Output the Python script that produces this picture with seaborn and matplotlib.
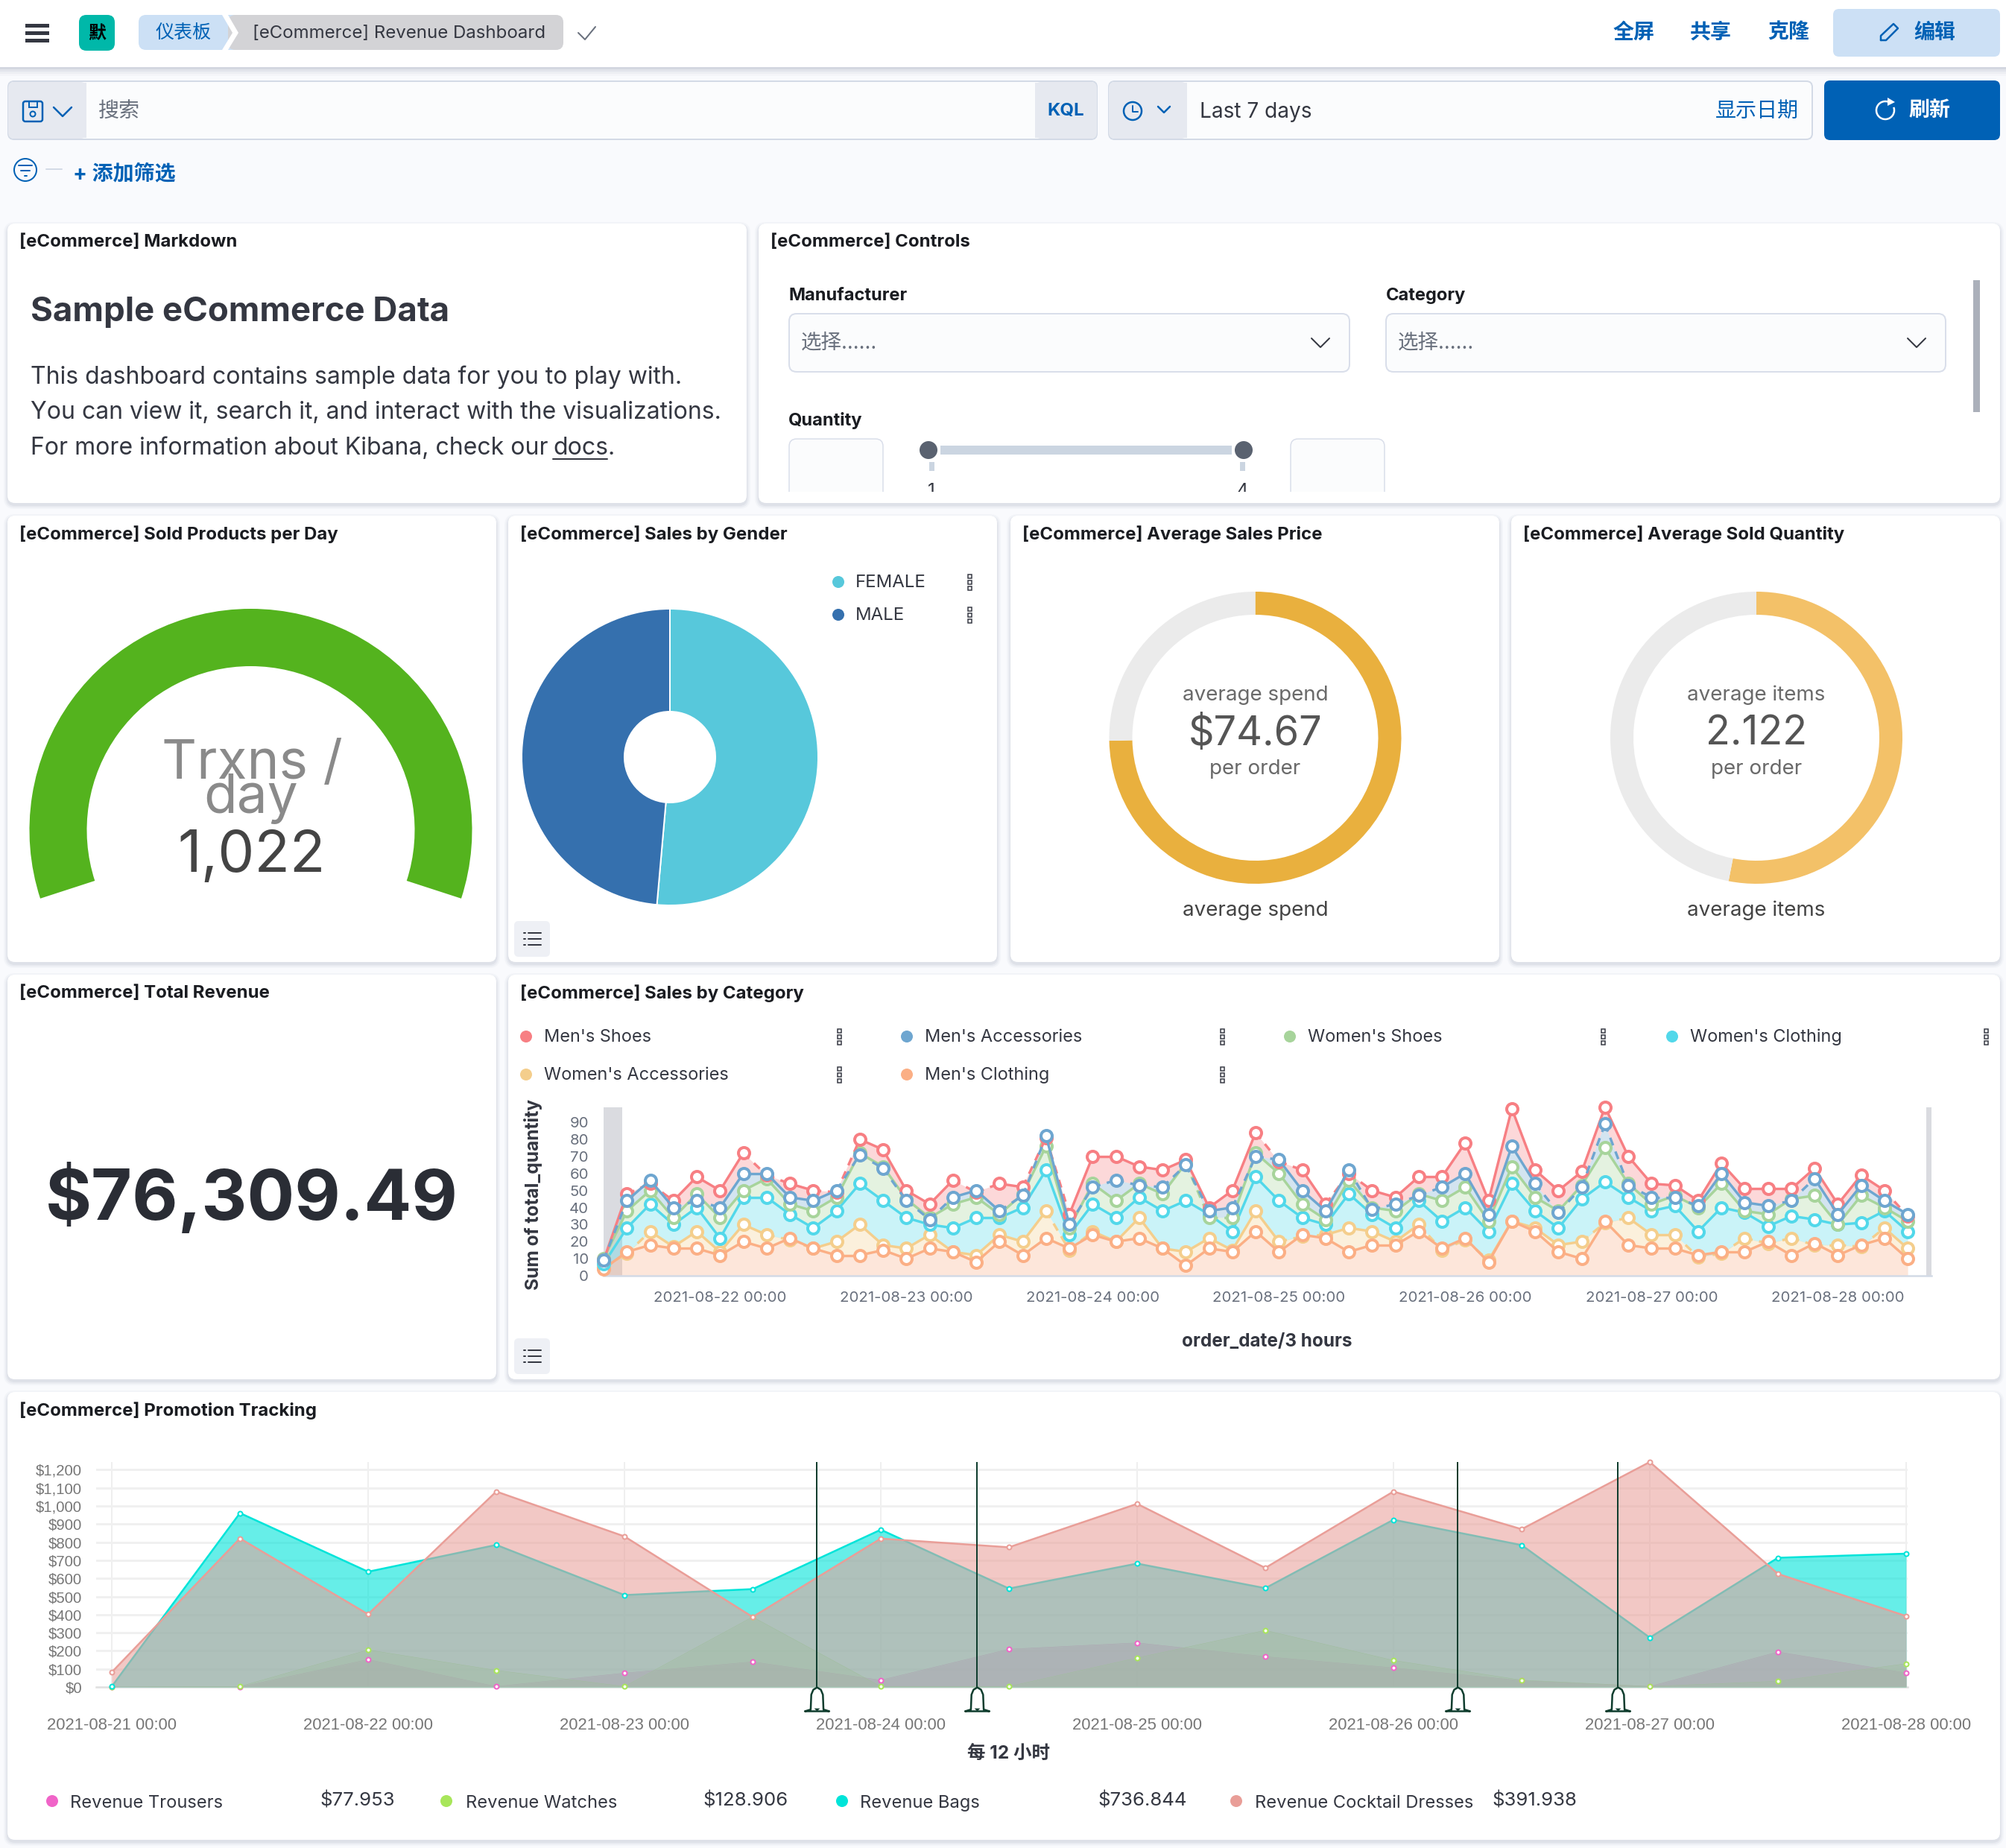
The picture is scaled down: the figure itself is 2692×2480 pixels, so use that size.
"""
Kibana eCommerce revenue dashboard rebuilt with seaborn / matplotlib
"""
import numpy as np
import pandas as pd
import seaborn as sns
import matplotlib
matplotlib.use("Agg")
import matplotlib.pyplot as plt
import matplotlib.dates as mdates
from matplotlib.patches import FancyBboxPatch, Rectangle, Circle, Arc, Polygon
from matplotlib.path import Path
from matplotlib.ticker import FuncFormatter

W, H = 2692, 2480

# ---- data -----------------------------------------------------------------
sales_start = "2021-08-21 09:00"
mens_shoes = [9, 48, 54, 44, 58, 50, 72, 59, 54, 50, 49, 80, 74, 50, 42, 56, 49, 54, 52, 81, 36, 70, 70, 64, 62, 68, 40, 50,
              84, 67, 62, 42, 60, 50, 46, 58, 58, 78, 44, 98, 62, 50, 61, 99, 70, 54, 53, 44, 66, 51, 51, 51, 63, 42, 59, 50, 35]
mens_accessories = [9, 44, 56, 40, 44, 40, 60, 60, 46, 44, 50, 71, 63, 44, 33, 46, 50, 38, 47, 82, 30, 52, 56, 53, 52, 65, 38, 40,
                    70, 68, 50, 38, 62, 39, 42, 47, 52, 60, 36, 76, 54, 37, 52, 89, 53, 46, 46, 41, 60, 43, 41, 44, 57, 36, 53, 44, 36]
womens_shoes = [10, 38, 50, 34, 48, 34, 50, 57, 42, 38, 46, 72, 64, 45, 34, 42, 46, 36, 48, 76, 28, 54, 44, 54, 48, 66, 34, 34,
                72, 60, 42, 33, 56, 40, 38, 48, 44, 52, 32, 64, 46, 38, 53, 75, 54, 42, 47, 40, 54, 38, 36, 45, 47, 30, 47, 40, 32]
womens_clothing = [7, 28, 42, 30, 40, 22, 46, 46, 36, 28, 38, 54, 44, 34, 30, 28, 34, 34, 40, 62, 24, 42, 34, 46, 38, 44, 36, 26,
                   58, 44, 34, 30, 48, 36, 28, 44, 32, 40, 26, 54, 38, 28, 45, 55, 46, 38, 41, 26, 40, 37, 29, 35, 33, 30, 31, 38, 26]
womens_accessories = [5, 13, 26, 17, 26, 14, 30, 24, 21, 16, 20, 30, 18, 16, 24, 14, 12, 24, 20, 38, 15, 26, 20, 34, 16, 14, 22, 15,
                      38, 20, 23, 24, 28, 26, 20, 30, 15, 21, 9, 32, 28, 18, 20, 31, 34, 24, 24, 11, 13, 22, 19, 22, 18, 18, 17, 28, 16]
mens_clothing = [4, 14, 18, 16, 16, 12, 20, 16, 22, 16, 12, 12, 15, 10, 16, 14, 8, 20, 12, 22, 16, 24, 20, 22, 16, 6, 16, 14,
                 26, 14, 24, 22, 14, 18, 18, 26, 16, 22, 8, 32, 26, 14, 10, 32, 18, 16, 16, 12, 14, 14, 20, 12, 19, 12, 18, 22, 10]
sales_names = ["Men's Shoes", "Men's Accessories", "Women's Shoes", "Women's Clothing", "Women's Accessories", "Men's Clothing"]
sales_colors = ["#F77F83", "#6EA6D0", "#A7D49B", "#52D8EA", "#F4CE8C", "#FBAF85"]
sales_ticks = ["2021-08-22", "2021-08-23", "2021-08-24", "2021-08-25", "2021-08-26", "2021-08-27", "2021-08-28"]

promo_start = "2021-08-21 00:00"
revenue_trousers = [0, 0, 152, 3, 77, 139, 38, 209, 244, 168, 106, 35, 3, 194, 77.953]
revenue_watches = [0, 3, 205, 92, 3, 387, 3, 3, 161, 313, 147, 38, 3, 32, 128.906]
revenue_bags = [3, 961, 637, 785, 508, 541, 869, 544, 682, 546, 924, 784, 273, 714, 736.844]
revenue_dresses = [82, 821, 402, 1080, 832, 387, 820, 772, 1012, 658, 1080, 872, 1243, 625, 391.938]
promo_names = ["Revenue Trousers", "Revenue Watches", "Revenue Bags", "Revenue Cocktail Dresses"]
promo_colors = ["#F064C8", "#A8E65A", "#00E4D9", "#E99E98"]
promo_alpha = [0.5, 0.35, 0.6, 0.56]
promo_line = [0.6, 0.6, 2.5, 2.5]
promo_labels = ["$77.953", "$128.906", "$736.844", "$391.938"]
promo_yticks = list(range(0, 1300, 100))
promo_events = ["2021-08-23 18:00", "2021-08-24 09:00", "2021-08-26 06:00", "2021-08-26 21:00"]

gender_names = ["FEMALE", "MALE"]
gender_share = [51.4, 48.6]
gender_colors = ["#57C8DB", "#3570AE"]
avg_price, avg_price_max = 74.67, 100
avg_qty, avg_qty_max = 2.122, 4

# ---- helpers --------------------------------------------------------------
sns.set_theme(style="white")
FONT = ["Inter", "Noto Sans CJK SC", "DejaVu Sans"]
plt.rcParams["font.family"] = FONT


def px(v):
    return v * 72 / 100


def rect_of(x0, y0, x1, y1):
    return [x0 / W, 1 - y1 / H, (x1 - x0) / W, (y1 - y0) / H]


fig = plt.figure(figsize=(W / 100, H / 100), dpi=100, facecolor="#F9FAFD")
bg = fig.add_axes([0, 0, 1, 1])
bg.set_xlim(0, W)
bg.set_ylim(H, 0)
bg.axis("off")


def txt(x, y, s, size, color="#343741", ha="left", va="center", weight="normal", **kw):
    return bg.text(x, y + 3, s, fontsize=px(size), color=color, ha=ha, va=va, fontweight=weight, **kw)


def box(x0, y0, x1, y1, fc, ec="none", r=8, lw=0, z=1):
    p = FancyBboxPatch((x0, y0), x1 - x0, y1 - y0, boxstyle=f"round,pad=0,rounding_size={r}",
                       fc=fc, ec=ec, lw=px(lw), zorder=z)
    bg.add_patch(p)
    return p


def chevron(x, y, w=7, h=6, color="#0061B5", lw=2):
    bg.plot([x - w, x, x + w], [y - h, y + h, y - h], color=color, lw=px(lw), zorder=5)


def card(x0, y0, x1, y1, title):
    for grow, alpha in [(5, 0.12), (3, 0.2), (1, 0.3)]:
        p = box(x0 - grow, y0 - grow + 3, x1 + grow, y1 + grow + 3, "#C6CBD6", r=10 + grow, z=1)
        p.set_alpha(alpha)
    box(x0, y0, x1, y1, "white", r=10, z=2)
    txt(x0 + 16, y0 + 22, title, 24, color="#1A1C21", weight="bold", zorder=6)


def kebab(x, y):
    for dy in (-8, 0, 8):
        bg.add_patch(Rectangle((x - 2.5, y + dy - 2.5), 5, 5, fc="white", ec="#343741", lw=px(1.5), zorder=6))


def list_button(x0, y0):
    box(x0, y0, x0 + 48, y0 + 48, "#EEF0F5", r=6, z=5)
    for dy in (-8, 0, 8):
        bg.plot([x0 + 19, x0 + 36], [y0 + 24 + dy] * 2, color="#343741", lw=px(2), zorder=6)
        bg.plot([x0 + 13, x0 + 15], [y0 + 24 + dy] * 2, color="#343741", lw=px(2), zorder=6)


def donut(cx, cy, r_out, r_in, values, colors, start, sep=False):
    ax = fig.add_axes(rect_of(cx - r_out - 2, cy - r_out - 2, cx + r_out + 2, cy + r_out + 2))
    ax.patch.set_alpha(0)
    ax.pie(values, colors=colors, startangle=start, counterclock=False, radius=r_out,
           wedgeprops=dict(width=r_out - r_in, edgecolor="white" if sep else "none", linewidth=px(2) if sep else 0))
    ax.set_xlim(-r_out - 2, r_out + 2)
    ax.set_ylim(-r_out - 2, r_out + 2)
    ax.axis("off")
    return ax


# ---- header ---------------------------------------------------------------
for i, a in enumerate([0.05, 0.08, 0.12, 0.2]):
    bg.add_patch(Rectangle((0, 90), W, 12 - 3 * i, fc="#9AA3B5", alpha=a, lw=0, zorder=1))
bg.add_patch(Rectangle((0, 0), W, 90, fc="white", lw=0, zorder=2))
for yy in (34, 44, 54):
    bg.add_patch(Rectangle((34, yy - 2.5), 32, 5, fc="#343741", lw=0, zorder=3))
box(106, 20, 154, 68, "#00B8A9", r=10, z=3)
txt(130, 43, "默", 24, color="black", ha="center", weight="bold", zorder=4)
box(186, 20, 330, 67, "#CCE0F5", r=10, z=3)
box(306, 20, 756, 67, "#D3D3D6", r=10, z=3)
bg.add_patch(Polygon([[298, 20], [306, 20], [320, 44], [306, 67], [298, 67], [312, 44]], fc="white", lw=0, zorder=4))
txt(246, 42, "仪表板", 25, color="#0061B5", ha="center", zorder=5)
txt(339, 42, "[eCommerce] Revenue Dashboard", 24, color="#343741", zorder=5)
bg.plot([776, 785, 799], [44, 53, 36], color="#69707D", lw=px(2), zorder=5)
for xc, s in [(2193, "全屏"), (2296, "共享"), (2400, "克隆")]:
    txt(xc, 41, s, 28, color="#0061B5", ha="center", weight="bold", zorder=5)
box(2460, 12, 2684, 76, "#CCE0F5", r=8, z=3)
bg.plot([2524, 2531, 2547, 2541, 2524, 2524], [54, 54, 38, 32, 48, 54], color="#0061B5", lw=px(2.5), zorder=5)
txt(2596, 41, "编辑", 28, color="#0061B5", ha="center", weight="bold", zorder=5)

# ---- query bar ------------------------------------------------------------
box(11, 109, 1472, 187, "#FBFCFD", ec="#D3DAE6", r=8, lw=2, z=2)
box(11, 110, 116, 186, "#E6E9F0", r=8, z=3)
bg.add_patch(Rectangle((100, 111), 16, 74, fc="#E6E9F0", lw=0, zorder=3))
box(1389, 110, 1472, 186, "#E6E9F0", r=8, z=3)
bg.add_patch(Rectangle((1389, 111), 16, 74, fc="#E6E9F0", lw=0, zorder=3))
box(31, 136, 57, 163, "none", ec="#0061B5", r=3, lw=2.5, z=4)
bg.add_patch(Circle((44, 153), 3.5, fc="none", ec="#0061B5", lw=px(2), zorder=4))
bg.add_patch(Rectangle((39, 136), 11, 8, fc="none", ec="#0061B5", lw=px(2), zorder=4))
chevron(84, 150, w=12, h=6, lw=2.5)
txt(132, 146, "搜索", 28, color="#69707D", zorder=5)
txt(1430, 146, "KQL", 24, color="#0061B5", ha="center", weight="bold", zorder=5)

box(1488, 109, 2432, 187, "#FBFCFD", ec="#D3DAE6", r=8, lw=2, z=2)
box(1488, 110, 1593, 186, "#E6E9F0", r=8, z=3)
bg.add_patch(Rectangle((1577, 111), 16, 74, fc="#E6E9F0", lw=0, zorder=3))
bg.add_patch(Circle((1520, 149), 12, fc="none", ec="#0061B5", lw=px(2.5), zorder=4))
bg.plot([1520, 1520, 1527], [142, 150, 150], color="#0061B5", lw=px(2), zorder=4)
chevron(1562, 147, w=8, h=4, lw=2.5)
txt(1610, 147, "Last 7 days", 28, color="#343741", zorder=5)
txt(2358, 146, "显示日期", 28, color="#0061B5", ha="center", zorder=5)
box(2448, 108, 2684, 188, "#0061B5", r=8, z=3)
bg.add_patch(Arc((2530, 148), 24, 24, theta1=-20, theta2=290, ec="white", lw=px(2.5), zorder=5))
bg.add_patch(Polygon([[2533, 131], [2543, 137], [2533, 142]], fc="white", lw=0, zorder=5))
txt(2590, 146, "刷新", 28, color="white", ha="center", weight="bold", zorder=5)

bg.add_patch(Circle((34, 228), 15, fc="none", ec="#0061B5", lw=px(2), zorder=4))
for hw, yy in [(9, 222), (6, 229), (1.5, 236)]:
    bg.plot([34 - hw, 34 + hw], [yy, yy], color="#0061B5", lw=px(2), zorder=4)
bg.plot([62, 83], [227, 227], color="#D3DAE6", lw=px(2), zorder=4)
txt(98, 231, "+ 添加筛选", 28, color="#0061B5", weight="bold", zorder=5)

# ---- cards ----------------------------------------------------------------
card(10, 300, 1002, 675, "[eCommerce] Markdown")
card(1018, 300, 2684, 675, "[eCommerce] Controls")
card(10, 692, 666, 1291, "[eCommerce] Sold Products per Day")
card(682, 692, 1338, 1291, "[eCommerce] Sales by Gender")
card(1356, 692, 2012, 1291, "[eCommerce] Average Sales Price")
card(2028, 692, 2684, 1291, "[eCommerce] Average Sold Quantity")
card(10, 1308, 666, 1851, "[eCommerce] Total Revenue")
card(682, 1308, 2684, 1851, "[eCommerce] Sales by Category")
card(10, 1868, 2684, 2469, "[eCommerce] Promotion Tracking")

# markdown
txt(41, 416, "Sample eCommerce Data", 45.6, color="#343741", weight="bold", zorder=5)
txt(41, 503, "This dashboard contains sample data for you to play with.", 32, zorder=5)
txt(41, 551, "You can view it, search it, and interact with the visualizations.", 32, zorder=5)
txt(41, 599, "For more information about Kibana, check our ", 32, zorder=5)
txt(742, 599, "docs", 32, zorder=5)
bg.plot([742, 815], [616, 616], color="#343741", lw=px(2), zorder=5)
txt(816, 599, ".", 32, zorder=5)

# controls
txt(1058, 394, "Manufacturer", 23.7, color="#1A1C21", weight="bold", zorder=5)
txt(1860, 394, "Category", 23.7, color="#1A1C21", weight="bold", zorder=5)
txt(1058, 561, "Quantity", 23.7, color="#1A1C21", weight="bold", zorder=5)
for x0, x1 in [(1059, 1811), (1860, 2611)]:
    box(x0, 421, x1, 499, "#FBFCFD", ec="#D9DEEA", r=10, lw=2, z=3)
    txt(x0 + 16, 458, "选择......", 27.5, color="#69707D", zorder=5)
    chevron(x1 - 39, 460, w=12, h=6, color="#343741", lw=2)
bg.add_patch(Rectangle((2648, 376), 9, 177, fc="#ABB0BA", lw=0, zorder=4))
for x0, x1 in [(1059, 1185), (1732, 1858)]:
    box(x0, 589, x1, 672, "#FBFCFD", ec="#D9DEEA", r=10, lw=1.5, z=3)
bg.add_patch(Rectangle((1262, 598), 391, 12, fc="#CBD5E1", lw=0, zorder=4))
for xc, xt in [(1246, 1250), (1669, 1667)]:
    bg.add_patch(Rectangle((xt - 3.5, 620), 7, 12, fc="#CBD5E1", lw=0, zorder=4))
    bg.add_patch(Circle((xc, 604), 16, fc="white", lw=0, zorder=4.5))
    bg.add_patch(Circle((xc, 604), 12, fc="#5A6270", lw=0, zorder=5))
txt(1250, 656, "1", 24, ha="center", zorder=5)
txt(1667, 656, "4", 24, ha="center", zorder=5)
bg.add_patch(Rectangle((1030, 660), 1640, 14, fc="white", lw=0, zorder=6))

# gauge, arc runs from 198 to -18 degrees
gauge_value = 1022
gauge_sweep = 216
donut(336.5, 1114, 297, 220, [gauge_value, gauge_value * (360 - gauge_sweep) / gauge_sweep], ["#54B31E", "none"], 198)
txt(338, 1023, "Trxns /", 73, color="#8A8A8A", ha="center", zorder=7)
txt(337, 1069, "day", 73, color="#8A8A8A", ha="center", zorder=7)
txt(338, 1147, "1,022", 78, color="#444444", ha="center", zorder=7)

# gender pie
donut(899, 1016, 199, 61, gender_share, gender_colors, 90, sep=True)
for i, name in enumerate(gender_names):
    yy = 781 + 44 * i
    bg.add_patch(Circle((1125, yy), 8, fc=gender_colors[i], lw=0, zorder=5))
    txt(1148, yy - 2, name, 24, zorder=5)
    kebab(1301, yy)
list_button(690, 1236)

# metric donuts
donut(1684.5, 990, 196, 165, [avg_price, avg_price_max - avg_price], ["#E9B03E", "#EBEBEB"], 90)
donut(2357, 990, 196, 165, [avg_qty, avg_qty_max - avg_qty], ["#F3C168", "#EBEBEB"], 90)
for xc, top, val, s in [(1684.5, "average spend", f"${avg_price}", "average spend"),
                        (2357, "average items", f"{avg_qty}", "average items")]:
    txt(xc, 930, top, 27.8, color="#6A6A6A", ha="center", zorder=5)
    txt(xc, 982, val, 54, color="#555555", ha="center", zorder=5)
    txt(xc, 1029, "per order", 27.8, color="#6A6A6A", ha="center", zorder=5)
    txt(xc, 1219, s, 27.8, color="#444444", ha="center", zorder=5)

# total revenue
txt(338, 1605, "$76,309.49", 94.7, color="#2A2D35", ha="center", weight="bold", zorder=5)

# ---- sales by category ----------------------------------------------------
sales_series = [mens_shoes, mens_accessories, womens_shoes, womens_clothing, womens_accessories, mens_clothing]
sales_dates = pd.date_range(sales_start, periods=len(mens_shoes), freq="3h")
step = pd.Timedelta(hours=3)

ax = fig.add_axes(rect_of(810, 1486, 2592, 1712))
ax.patch.set_alpha(0)
ax.set_xlim(sales_dates[0], sales_dates[0] + step * 57.02)
ax.set_ylim(0, 98.8)
ax.axvspan(sales_dates[0], sales_dates[0] + step * 0.8, color="#DADBE0", lw=0, zorder=0.5)
ax.axvspan(sales_dates[0] + step * 56.8, sales_dates[0] + step * 57.02, color="#DADBE0", lw=0, zorder=0.5)

draw_order = {4: 3, 5: 4, 3: 5, 2: 6, 0: 7, 1: 8}
for i, values in enumerate(sales_series):
    y = np.array(values, dtype=float)
    below = np.array(sales_series[i + 1], dtype=float) if i + 1 < len(sales_series) else np.zeros_like(y)
    col = sales_colors[i]
    ax.fill_between(sales_dates, y, below, where=y >= below, interpolate=True, color=col, alpha=0.3, lw=0, zorder=1)
    ax.fill_between(sales_dates, y, below, where=y < below, interpolate=True, color=col, alpha=0.1, lw=0, zorder=1)
    # a segment touching a point that sits under the next series is dashed
    hidden = y < below
    rows = []
    for k in range(len(y) - 1):
        for j in (k, k + 1):
            rows.append(dict(date=sales_dates[j], val=y[j], seg=k, dashed=bool(hidden[k] or hidden[k + 1])))
    seg_df = pd.DataFrame(rows)
    z = draw_order[i]
    solid = seg_df[~seg_df.dashed]
    dash = seg_df[seg_df.dashed]
    if len(solid):
        sns.lineplot(data=solid, x="date", y="val", units="seg", estimator=None, color=col, lw=px(3.4),
                     ax=ax, legend=False, zorder=z, solid_capstyle="round")
    if len(dash):
        sns.lineplot(data=dash, x="date", y="val", units="seg", estimator=None, color=col, lw=px(3.4),
                     ax=ax, legend=False, zorder=z, linestyle=(0, (3.2, 2.6)))
    sns.lineplot(x=sales_dates, y=y, estimator=None, color=col, ax=ax, legend=False, linestyle="",
                 marker="o", markersize=px(15), markerfacecolor="white", markeredgecolor=col,
                 markeredgewidth=px(4), zorder=z + 0.5, clip_on=False)

ax.set_xticks(pd.to_datetime(sales_ticks))
ax.xaxis.set_major_formatter(mdates.DateFormatter("%Y-%m-%d %H:%M"))
ax.set_yticks(range(0, 100, 10))
ax.tick_params(axis="both", length=0, labelsize=px(20.4), labelcolor="#69707D")
ax.tick_params(axis="x", pad=px(21))
ax.tick_params(axis="y", pad=px(20))
ax.set_xlabel("")
ax.set_ylabel("")
for side in ("top", "left", "right"):
    ax.spines[side].set_visible(False)
ax.spines["bottom"].set_color("#D3DAE6")
ax.spines["bottom"].set_linewidth(px(2.5))

txt(716, 1600, "Sum of total_quantity", 24.6, color="#343741", ha="center", weight="bold", rotation=90, zorder=5)
txt(1700, 1798, "order_date/3 hours", 24.3, color="#343741", ha="center", weight="bold", zorder=5)
list_button(690, 1796)
legend_x = [706, 1217, 1731, 2244]
legend_menu = [1126, 1640, 2151, 2665]
for i, name in enumerate(sales_names):
    c, r = i % 4, i // 4
    yy = 1391 + 51 * r
    bg.add_patch(Circle((legend_x[c], yy), 8, fc=sales_colors[i], lw=0, zorder=5))
    txt(legend_x[c] + 24, yy - 2, name, 23.5, zorder=5)
    kebab(legend_menu[c], yy)

# ---- promotion tracking ---------------------------------------------------
promo_series = [revenue_trousers, revenue_watches, revenue_bags, revenue_dresses]
promo_dates = pd.date_range(promo_start, periods=len(revenue_bags), freq="12h")

pax = fig.add_axes(rect_of(129, 1962, 2560, 2264))
pax.patch.set_alpha(0)
hour_px = 172 / 12
pax.set_xlim(promo_dates[0] - pd.Timedelta(hours=21 / hour_px), promo_dates[0] + pd.Timedelta(hours=2410 / hour_px))
pax.set_ylim(0, 1243)
pax.set_yticks(promo_yticks)
pax.yaxis.set_major_formatter(FuncFormatter(lambda v, _: f"${v:,.0f}"))
pax.set_xticks(pd.date_range(promo_dates[0], promo_dates[-1], freq="1D"))
pax.xaxis.set_major_formatter(mdates.DateFormatter("%Y-%m-%d %H:%M"))
pax.grid(axis="y", color="#F0F0F0", lw=px(3))
pax.grid(axis="x", color="#EAEAEA", lw=px(1.5))
pax.set_axisbelow(True)
pax.tick_params(axis="x", length=px(20), width=px(1.5), color="#EAEAEA", labelsize=px(22), labelcolor="#777777", pad=px(21))
pax.tick_params(axis="y", length=0, labelsize=px(20.4), labelcolor="#777777", pad=px(19))
for lab in pax.get_xticklabels() + pax.get_yticklabels():
    lab.set_family("Liberation Sans")
for side in ("top", "left", "right"):
    pax.spines[side].set_visible(False)
pax.spines["bottom"].set_color("#E0E0E0")
pax.spines["bottom"].set_linewidth(px(2.5))

for i, values in enumerate(promo_series):
    col = promo_colors[i]
    pax.fill_between(promo_dates, values, 0, color=col, alpha=promo_alpha[i], lw=0, zorder=2 + i)
    sns.lineplot(x=promo_dates, y=values, estimator=None, color=col, lw=px(promo_line[i]), ax=pax, legend=False, zorder=2 + i)
    # the point markers stay visible above every area
    sns.lineplot(x=promo_dates, y=values, estimator=None, color=col, ax=pax, legend=False, linestyle="",
                 marker="o", markersize=px(6), markerfacecolor="white", markeredgecolor=col,
                 markeredgewidth=px(2), zorder=7, clip_on=False)

bell = Path([(0, 0), (-.13, -.08), (-.2, -.25), (-.22, -.76), (-.42, -.82), (.42, -.82), (.22, -.76), (.2, -.25), (.13, -.08), (0, 0)])
clapper = Path([(-.12, -.88), (.12, -.88), (0, -1), (-.12, -.88)])
for when in pd.to_datetime(promo_events):
    pax.axvline(when, color="#0F3D2E", lw=px(2), zorder=8)
    pax.plot([when], [0], marker=bell, markersize=px(64), markerfacecolor="white", markeredgecolor="#0F3D2E",
             markeredgewidth=px(2.5), clip_on=False, zorder=9)
    pax.plot([when], [0], marker=clapper, markersize=px(64), markerfacecolor="#0F3D2E", markeredgecolor="#0F3D2E",
             markeredgewidth=0, clip_on=False, zorder=9)
pax.set_xlabel("")
pax.set_ylabel("")

txt(1353, 2351, "每 12 小时", 24.5, color="#343741", ha="center", weight="bold", zorder=5)
promo_dot = [70, 599, 1130, 1659]
promo_text = [94, 625, 1154, 1684]
promo_val = [429, 943, 1473, 2002]
for i, name in enumerate(promo_names):
    bg.add_patch(Circle((promo_dot[i], 2417), 8, fc=promo_colors[i], lw=0, zorder=5))
    txt(promo_text[i], 2417, name, 23.7, zorder=5)
    txt(promo_val[i], 2414, promo_labels[i], 25.8, zorder=5)

fig.savefig("out.png", dpi=100, facecolor=fig.get_facecolor())
